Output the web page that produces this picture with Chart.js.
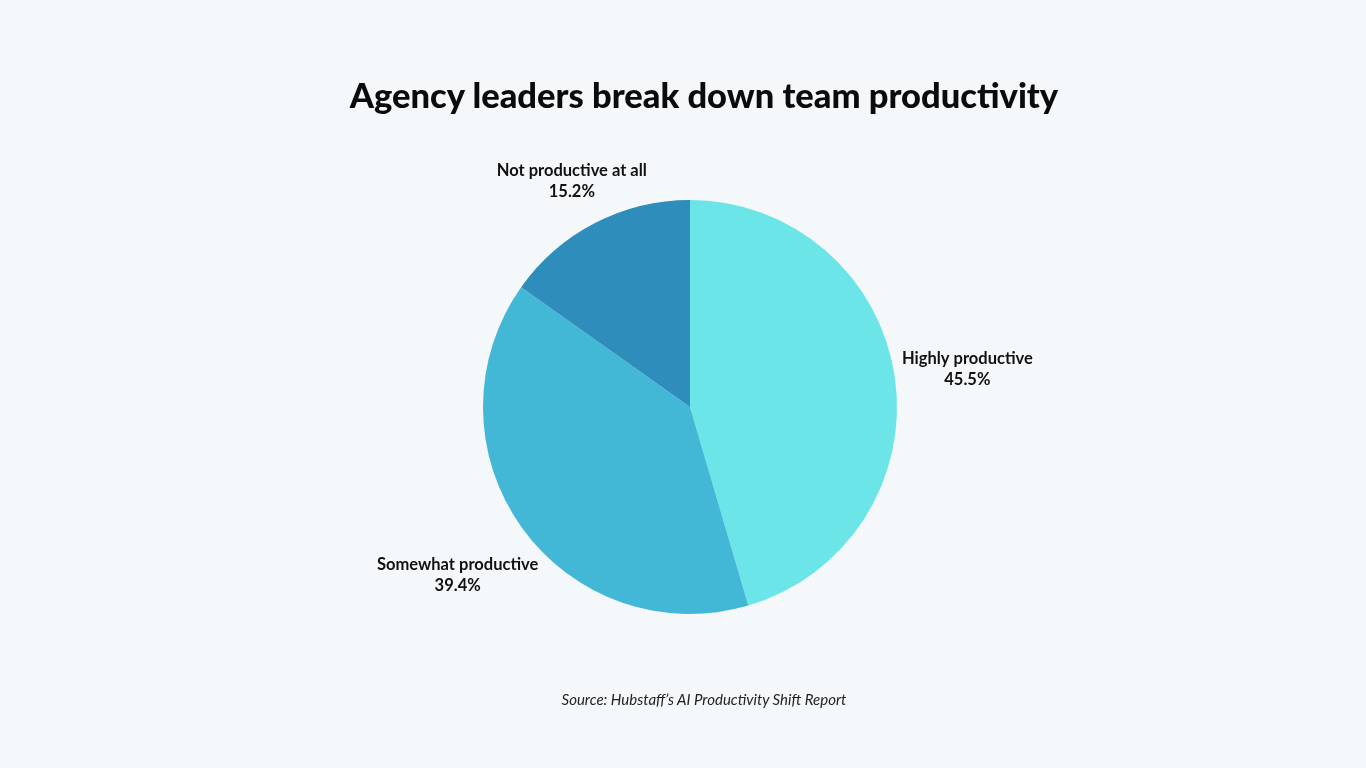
<!DOCTYPE html>
<html>
<head>
<meta charset="utf-8">
<script src="https://cdn.jsdelivr.net/npm/chart.js@4"></script>
<style>
  html, body { margin: 0; padding: 0; background: #f4f8fb; }
  #wrap { position: relative; width: 1366px; height: 768px; }
  #title {
    position: absolute; left: 0; top: 74px; width: 1408px;
    text-align: center; font-family: Lato, sans-serif; font-weight: 900;
    font-size: 34.5px; color: #0b0b0b;
  }
  #source {
    position: absolute; left: 0; top: 690px; width: 1408px;
    text-align: center; font-family: Lato, sans-serif; font-style: italic;
    font-size: 15px; color: #222;
  }
  canvas { position: absolute; left: 0; top: 0; }
</style>
</head>
<body>
<div id="wrap">
  <canvas id="pieChart" width="1366" height="768"></canvas>
  <div id="title">Agency leaders break down team productivity</div>
  <div id="source">Source: Hubstaff’s AI Productivity Shift Report</div>
</div>
<script>
const categories = ['Highly productive', 'Somewhat productive', 'Not productive at all'];
const shares = [45.5, 39.4, 15.2];
const sliceColors = ['#6be5e8', '#42b8d6', '#2e8dbb'];

// labels outside each slice, name on top and percentage below
const outsideLabels = {
    id: 'outsideLabels',
    afterDatasetsDraw(chart) {
        const ctx = chart.ctx;
        const arcs = chart.getDatasetMeta(0).data;
        ctx.save();
        ctx.fillStyle = '#111';
        ctx.textAlign = 'center';
        ctx.textBaseline = 'middle';
        ctx.font = 'bold 16.5px Lato, sans-serif';
        arcs.forEach((arc, i) => {
            const mid = (arc.startAngle + arc.endAngle) / 2;
            const name = categories[i];
            const pct = shares[i].toFixed(1) + '%';
            const halfW = Math.max(ctx.measureText(name).width, ctx.measureText(pct).width) / 2;
            const halfH = 10;
            const cos = Math.cos(mid), sin = Math.sin(mid);
            const dist = arc.outerRadius + 7 + Math.abs(cos) * halfW + Math.abs(sin) * halfH;
            const x = arc.x + cos * dist;
            const y = arc.y + sin * dist + 2;
            ctx.fillText(name, x, y - 10);
            ctx.fillText(pct, x, y + 11);
        });
        ctx.restore();
    }
};

new Chart(document.getElementById('pieChart').getContext('2d'), {
    type: 'pie',
    data: {
        labels: categories,
        datasets: [{
            data: shares,
            backgroundColor: sliceColors,
            borderWidth: 0
        }]
    },
    options: {
        responsive: false,
        animation: false,
        layout: { padding: { left: 483, right: 469, top: 200, bottom: 154 } },
        plugins: {
            legend: { display: false },
            tooltip: { enabled: false }
        }
    },
    plugins: [outsideLabels]
});
</script>
</body>
</html>
